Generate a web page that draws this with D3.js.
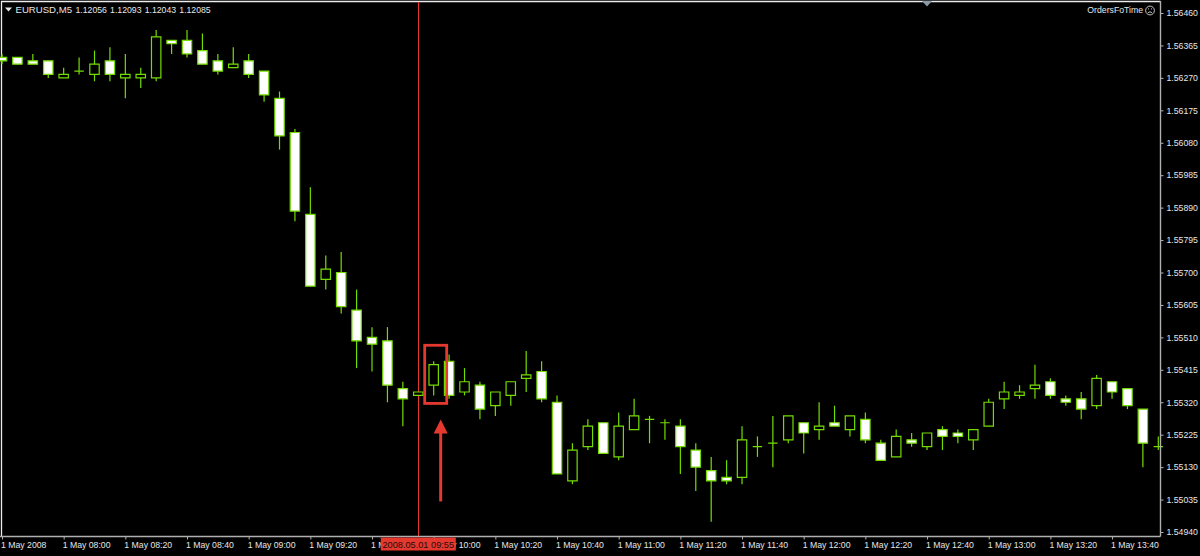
<!DOCTYPE html>
<html lang="en">
<head>
  <meta charset="UTF-8" />
  <title>EURUSD,M5</title>
  <script src="https://d3js.org/d3.v7.min.js"></script>
  <style>
    body { background: #000; margin: 0; }
    svg { display: block; }
    text { font-family: 'Liberation Sans', sans-serif; font-size: 8.7px; fill: #e6e6e6; }
    .axis path, .axis line { stroke: #b0b0b0; }
    .axis .domain { stroke-width: 1.4; }
  </style>
</head>
<body>
<script>
  const times = [
    "07:40","07:45","07:50","07:55","08:00","08:05","08:10","08:15","08:20","08:25","08:30","08:35",
    "08:40","08:45","08:50","08:55","09:00","09:05","09:10","09:15","09:20","09:25","09:30","09:35",
    "09:40","09:45","09:50","09:55","10:00","10:05","10:10","10:15","10:20","10:25","10:30","10:35",
    "10:40","10:45","10:50","10:55","11:00","11:05","11:10","11:15","11:20","11:25","11:30","11:35",
    "11:40","11:45","11:50","11:55","12:00","12:05","12:10","12:15","12:20","12:25","12:30","12:35",
    "12:40","12:45","12:50","12:55","13:00","13:05","13:10","13:15","13:20","13:25","13:30","13:35",
    "13:40","13:45","13:50","13:55"
  ];
  const opens = [
    1.5633,1.5633,1.5632,1.5632,1.5627,1.5629,1.5628,1.5632,1.5627,1.5627,1.5627,1.5638,
    1.5638,1.5635,1.5632,1.5630,1.5632,1.5629,1.5621,1.5611,1.5587,1.5568,1.5570,1.5559,
    1.5551,1.5550,1.5536,1.5534,1.5537,1.5544,1.5535,1.5537,1.5531,1.5534,1.5539,1.5541,
    1.5532,1.5509,1.5519,1.5526,1.5516,1.5524,1.5527,1.5526,1.5525,1.5518,1.5512,1.5510,
    1.5510,1.5519,1.5520,1.5521,1.5526,1.5524,1.5526,1.5524,1.5527,1.5520,1.5516,1.5521,
    1.5519,1.5524,1.5523,1.5521,1.5525,1.5533,1.5534,1.5536,1.5538,1.5533,1.5533,1.5531,
    1.5538,1.5536,1.5530,1.5519
  ];
  const highs = [
    1.5634,1.5633,1.5634,1.5632,1.5630,1.5633,1.5635,1.5636,1.5634,1.5630,1.5641,1.5638,
    1.5641,1.5640,1.5634,1.5636,1.5634,1.5629,1.5623,1.5612,1.5595,1.5575,1.5576,1.5565,
    1.5554,1.5554,1.5538,1.5535,1.5544,1.5546,1.5542,1.5538,1.5535,1.5538,1.5547,1.5544,
    1.5534,1.5520,1.5527,1.5526,1.5529,1.5533,1.5528,1.5527,1.5527,1.5520,1.5516,1.5515,
    1.5525,1.5522,1.5528,1.5528,1.5526,1.5532,1.5531,1.5528,1.5529,1.5521,1.5524,1.5523,
    1.5523,1.5525,1.5524,1.5524,1.5533,1.5538,1.5537,1.5543,1.5539,1.5534,1.5535,1.5540,
    1.5538,1.5536,1.5530,1.5522
  ];
  const lows = [
    1.5631,1.5631,1.5631,1.5627,1.5627,1.5628,1.5626,1.5626,1.5621,1.5624,1.5626,1.5634,
    1.5633,1.5631,1.5628,1.5630,1.5627,1.5620,1.5606,1.5585,1.5566,1.5565,1.5558,1.5542,
    1.5541,1.5532,1.5525,1.5534,1.5534,1.5533,1.5534,1.5527,1.5528,1.5531,1.5535,1.5532,
    1.5511,1.5508,1.5518,1.5517,1.5515,1.5524,1.5520,1.5521,1.5511,1.5506,1.5497,1.5508,
    1.5508,1.5516,1.5513,1.5520,1.5517,1.5521,1.5525,1.5522,1.5520,1.5515,1.5516,1.5519,
    1.5518,1.5518,1.5520,1.5518,1.5525,1.5530,1.5533,1.5533,1.5533,1.5531,1.5527,1.5530,
    1.5533,1.5530,1.5513,1.5518
  ];
  const closes = [
    1.5632,1.5631,1.5631,1.5628,1.5628,1.5629,1.5631,1.5628,1.5628,1.5628,1.5639,1.5637,
    1.5634,1.5631,1.5629,1.5631,1.5628,1.5622,1.5610,1.5588,1.5566,1.5571,1.5560,1.5550,
    1.5549,1.5537,1.5533,1.5535,1.5543,1.5534,1.5538,1.5530,1.5535,1.5538,1.5540,1.5533,
    1.5511,1.5518,1.5525,1.5517,1.5525,1.5528,1.5527,1.5526,1.5519,1.5513,1.5509,1.5509,
    1.5521,1.5519,1.5520,1.5528,1.5523,1.5525,1.5525,1.5528,1.5521,1.5515,1.5522,1.5520,
    1.5523,1.5522,1.5522,1.5524,1.5532,1.5535,1.5535,1.5537,1.5534,1.5532,1.5530,1.5539,
    1.5535,1.5531,1.5520,1.5519
  ];
  const priceTicks = [
    1.56460,1.56365,1.56270,1.56175,1.56080,1.55985,1.55890,1.55795,1.55700,
    1.55605,1.55510,1.55415,1.55320,1.55225,1.55130,1.55035,1.54940
  ];
  const timeTicks = [
    "07:40","08:00","08:20","08:40","09:00","09:20","09:40","10:00","10:20","10:40","11:00",
    "11:20","11:40","12:00","12:20","12:40","13:00","13:20","13:40"
  ];
  const headerValues = ["1.12056","1.12093","1.12043","1.12085"];
  const cursorTime = "09:55";
  const markedTime = "10:00";

  const width = 1200, height = 556;
  const plotRight = 1160.5, plotBottom = 536.5;
  const candleColor = "#74dc00", red = "#e5392f", bodyWidth = 9.4;

  const x = d3.scalePoint().domain(times).range([2, 1158.3]);
  const y = d3.scaleLinear().domain([1.5646, 1.5494]).range([13, 532]);

  const svg = d3.select("body").append("svg")
    .attr("width", width)
    .attr("height", height);

  // Frame of the chart window
  svg.append("path")
    .attr("d", `M1.5,${plotBottom}V1.5H${plotRight}`)
    .attr("fill", "none")
    .attr("stroke", "#ececec")
    .attr("stroke-width", 1.3);

  // Cursor line sits behind the candles
  const cursorX = Math.round(x(cursorTime)) + 0.5;
  svg.append("line")
    .attr("x1", cursorX).attr("x2", cursorX)
    .attr("y1", 2).attr("y2", plotBottom)
    .attr("stroke", red);

  // Candles, body as a path so a flat open = close still shows
  const candles = svg.append("g").selectAll("g")
    .data(times)
    .enter()
    .append("g");

  candles.append("line")
    .attr("x1", d => x(d)).attr("x2", d => x(d))
    .attr("y1", (d, i) => y(highs[i]))
    .attr("y2", (d, i) => y(lows[i]))
    .attr("stroke", candleColor)
    .attr("stroke-width", 1.2);

  candles.append("path")
    .attr("d", (d, i) => {
      const top = y(Math.max(opens[i], closes[i])), bottom = y(Math.min(opens[i], closes[i]));
      return `M${x(d) - bodyWidth / 2},${top}h${bodyWidth}V${bottom}h${-bodyWidth}Z`;
    })
    .attr("fill", (d, i) => closes[i] < opens[i] ? "#fff" : "#000")
    .attr("stroke", candleColor)
    .attr("stroke-width", 1.2);

  // Axes
  const yAxis = svg.append("g")
    .attr("class", "axis")
    .attr("transform", `translate(${plotRight},0)`)
    .call(d3.axisRight(y).tickValues(priceTicks).tickFormat(d3.format(".5f")).tickSize(3).tickPadding(3));
  yAxis.select(".domain").attr("d", `M0,1V${plotBottom}`);

  const xAxis = svg.append("g")
    .attr("class", "axis")
    .attr("transform", `translate(0,${plotBottom})`)
    .call(d3.axisBottom(x).tickValues(timeTicks).tickSize(3)
      .tickFormat((d, i) => i === 0 ? "1 May 2008" : "1 May " + d));
  xAxis.select(".domain").attr("d", `M0,0H${plotRight}`);
  xAxis.selectAll("text").attr("text-anchor", "start").attr("x", -1.5).attr("y", 5);

  // Cursor time label
  svg.append("rect")
    .attr("x", x(cursorTime) - 37.5).attr("y", plotBottom + 1)
    .attr("width", 75).attr("height", 13)
    .attr("fill", red);
  svg.append("text")
    .attr("x", x(cursorTime)).attr("y", plotBottom + 11)
    .attr("text-anchor", "middle")
    .style("fill", "#2a0a08")
    .style("font-size", "9.2px")
    .text("2008.05.01 09:55");

  // Highlight box and arrow on the marked candle
  const markIndex = times.indexOf(markedTime);
  svg.append("rect")
    .attr("x", x(markedTime) - 9).attr("width", 22)
    .attr("y", y(highs[markIndex]) - 16)
    .attr("height", y(lows[markIndex]) - y(highs[markIndex]) + 24)
    .attr("fill", "none")
    .attr("stroke", red)
    .attr("stroke-width", 2.8);

  const arrowX = x(markedTime) + 7, arrowTip = y(lows[markIndex]) + 24;
  svg.append("line")
    .attr("x1", arrowX).attr("x2", arrowX)
    .attr("y1", arrowTip + 12).attr("y2", arrowTip + 82)
    .attr("stroke", red)
    .attr("stroke-width", 3);
  svg.append("path")
    .attr("d", d3.line()([[arrowX, arrowTip], [arrowX + 7, arrowTip + 14], [arrowX - 7, arrowTip + 14]]) + "Z")
    .attr("fill", red);

  // Title and indicator labels
  svg.append("path")
    .attr("d", "M5,7.5h7l-3.5,4Z")
    .attr("fill", "#e6e6e6");
  svg.append("text")
    .attr("x", 15.5).attr("y", 12.5)
    .style("font-size", "9.6px")
    .text("EURUSD,M5");
  svg.selectAll(".quote")
    .data(headerValues)
    .enter()
    .append("text")
    .attr("class", "quote")
    .attr("x", (d, i) => 75.5 + i * 34.6)
    .attr("y", 12.5)
    .text(d => d);
  svg.append("text")
    .attr("x", 1143).attr("y", 13)
    .attr("text-anchor", "end")
    .text("OrdersFoTime");

  // Frowning face next to the indicator name
  const face = svg.append("g")
    .attr("transform", "translate(1150,10.5)")
    .attr("fill", "none")
    .attr("stroke", "#d8d8d8")
    .attr("stroke-width", 0.9);
  face.append("circle").attr("r", 4.4);
  face.append("path").attr("d", "M-2,-1.6h1M1,-1.6h1M-2,2.2Q0,0.4 2,2.2");

  svg.append("path")
    .attr("d", "M922,1h10l-5,5.5Z")
    .attr("fill", "#8a99a6");
</script>
</body>
</html>
